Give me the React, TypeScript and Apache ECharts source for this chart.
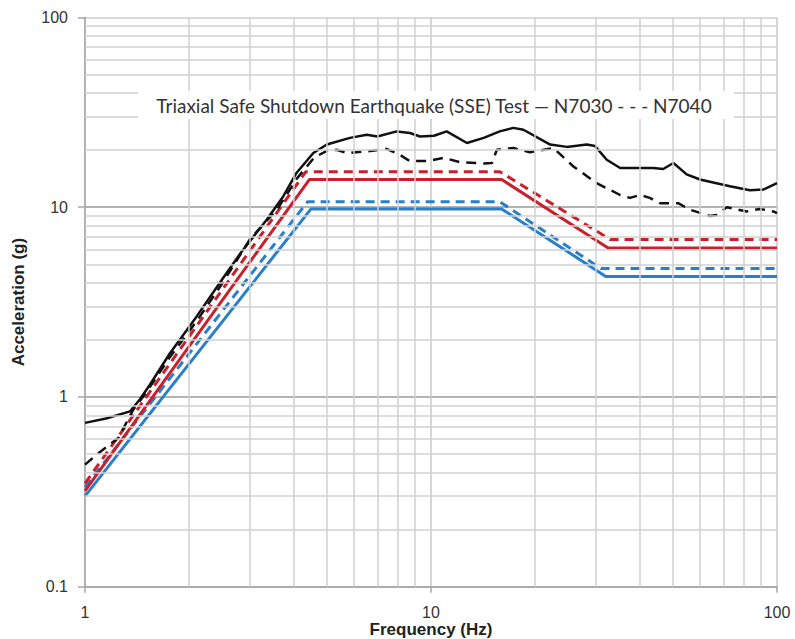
import { useEffect, useRef } from "react";
import * as echarts from "echarts";

// ---- Data ----
const blackSolidFreq = [1, 1.15, 1.35, 1.44, 1.54, 1.76, 2.1, 2.51, 2.81, 3.35, 3.74, 4.09, 4.57, 5.0, 5.83, 6.52, 7.0, 7.96, 8.69, 9.3, 10.2, 11.1, 12.7, 14.2, 15.8, 17.3, 18.5, 22.1, 24.7, 28.2, 29.8, 32.2, 35.2, 40.2, 43.9, 46.9, 50.2, 54.8, 59.9, 65.4, 73.1, 83.5, 91.3, 100];
const blackSolidAcc = [0.73, 0.77, 0.84, 0.97, 1.16, 1.7, 2.65, 4.25, 5.7, 8.6, 11.4, 15.2, 19.3, 21.4, 23.2, 24.1, 23.6, 25.1, 24.6, 23.6, 23.8, 25.1, 21.8, 23.2, 25.1, 26.2, 25.6, 21.4, 20.8, 21.4, 21.0, 17.8, 16.1, 16.1, 16.1, 15.9, 17.1, 14.9, 14.0, 13.5, 12.9, 12.3, 12.4, 13.4];

const blackDashedFreq = [1, 1.1, 1.25, 1.3, 1.38, 1.5, 1.75, 2.1, 2.5, 3.0, 3.6, 4.1, 4.6, 5.0, 5.34, 5.71, 6.52, 7.44, 8.13, 8.69, 9.72, 10.9, 12.1, 14.2, 15.0, 15.5, 17.3, 19.3, 22.6, 25.8, 30.1, 35.2, 37.6, 40.2, 42.9, 45.9, 51.8, 56.1, 64.0, 66.8, 71.6, 81.7, 89.3, 97.6, 100];
const blackDashedAcc = [0.44, 0.51, 0.61, 0.7, 0.86, 1.05, 1.6, 2.5, 4.0, 6.8, 9.8, 14.2, 18.3, 19.8, 20.1, 19.3, 19.7, 20.3, 18.9, 17.5, 17.5, 18.2, 17.3, 17.0, 17.1, 20.1, 20.5, 19.5, 20.5, 16.4, 13.4, 11.6, 11.2, 11.6, 11.2, 10.5, 10.5, 9.7, 9.0, 9.1, 10.0, 9.5, 9.8, 9.5, 9.3];

const redDashedFreq = [1, 4.35, 15.8, 33, 100];
const redDashedAcc = [0.35, 15.4, 15.4, 6.75, 6.75];
const redSolidFreq = [1, 4.45, 16, 32.5, 100];
const redSolidAcc = [0.32, 14.0, 14.0, 6.1, 6.1];
const blueDashedFreq = [1, 4.4, 15.8, 31, 100];
const blueDashedAcc = [0.335, 10.7, 10.7, 4.75, 4.75];
const blueSolidFreq = [1, 4.5, 16, 32, 100];
const blueSolidAcc = [0.3, 9.8, 9.8, 4.32, 4.32];

const minorGridX = [2, 3, 4, 5, 6, 7, 8, 9, 20, 30, 40, 50, 60, 70, 80, 90];
const minorGridY = [0.2, 0.3, 0.4, 0.5, 0.6, 0.7, 0.8, 0.9, 2, 3, 4, 5, 6, 7, 8, 9, 20, 30, 40, 50, 60, 70, 80, 90];

const titleText = "Triaxial Safe Shutdown Earthquake (SSE) Test \u2014 N7030 - - - N7040";
const xAxisName = "Frequency (Hz)";
const yAxisName = "Acceleration (g)";

const RED = "#c8202c";
const BLUE = "#2a7fc9";
const BLACK = "#111111";

const zip = (xs: number[], ys: number[]) => xs.map((x, i) => [x, ys[i]]);
const fmt = (v: number) => String(+Number(v).toPrecision(3));

export default function App() {
  const ref = useRef<HTMLDivElement>(null);

  useEffect(() => {
    if (!ref.current) return;
    const chart = echarts.init(ref.current, null, { renderer: "svg" });
    const lineBase = { type: "line", showSymbol: false, symbol: "none", silent: true, z: 3 };
    chart.setOption({
      animation: false,
      backgroundColor: "#ffffff",
      grid: { left: 85, right: 18, top: 17.5, bottom: 52.3, containLabel: false, outerBoundsMode: "none" },
      xAxis: {
        type: "log",
        logBase: 10,
        min: 1,
        max: 100,
        name: xAxisName,
        nameLocation: "middle",
        nameGap: 34,
        nameMoveOverlap: false,
        nameTextStyle: { fontFamily: "Liberation Sans", fontWeight: "bold", fontSize: 17, color: "#222" },
        axisLine: { show: true, lineStyle: { color: "#a6a6a6", width: 1.5 } },
        axisTick: { show: true, length: 6, lineStyle: { color: "#a6a6a6", width: 1.5 } },
        axisLabel: { color: "#333", fontSize: 16, fontFamily: "Liberation Sans", margin: 18, formatter: fmt },
        splitLine: { show: true, lineStyle: { color: "#c8c8c8", width: 1.5 } },
      },
      yAxis: {
        type: "log",
        logBase: 10,
        min: 0.1,
        max: 100,
        name: yAxisName,
        nameLocation: "middle",
        nameGap: 58,
        nameMoveOverlap: false,
        nameTextStyle: { fontFamily: "Liberation Sans", fontWeight: "bold", fontSize: 17, color: "#222" },
        axisLine: { show: true, lineStyle: { color: "#a6a6a6", width: 1.5 } },
        axisTick: { show: true, length: 7, lineStyle: { color: "#a6a6a6", width: 1.5 } },
        axisLabel: { color: "#333", fontSize: 16, fontFamily: "Liberation Sans", margin: 17, formatter: fmt },
        splitLine: { show: true, lineStyle: { color: ["#a6a6a6", "#9a9a9a", "#9a9a9a", "#cccccc"], width: 1.5 } },
      },
      graphic: [
        {
          type: "rect",
          z: 100,
          shape: { x: 138, y: 91, width: 596, height: 28 },
          style: { fill: "#ffffff" },
          silent: true,
        },
        {
          type: "text",
          z: 101,
          x: 434,
          y: 105,
          silent: true,
          style: {
            text: titleText,
            fill: "#333333",
            fontSize: 19,
            fontFamily: "Lato",
            textAlign: "center",
            textVerticalAlign: "middle",
            align: "center",
            verticalAlign: "middle",
          },
        },
      ],
      series: [
        {
          type: "line",
          data: [],
          silent: true,
          z: 1,
          markLine: {
            silent: true,
            symbol: ["none", "none"],
            label: { show: false },
            lineStyle: { color: "#d0d0d0", width: 1.5, type: "solid" },
            data: [
              ...minorGridX.map((v) => ({ xAxis: v })),
              ...minorGridY.map((v) => ({ yAxis: v })),
            ],
          },
        },
        { ...lineBase, name: "Blue solid", data: zip(blueSolidFreq, blueSolidAcc), lineStyle: { color: BLUE, width: 3 } },
        { ...lineBase, name: "Blue dashed", data: zip(blueDashedFreq, blueDashedAcc), lineStyle: { color: BLUE, width: 3, type: [9, 6] } },
        { ...lineBase, name: "Red solid", data: zip(redSolidFreq, redSolidAcc), lineStyle: { color: RED, width: 3 } },
        { ...lineBase, name: "Red dashed", data: zip(redDashedFreq, redDashedAcc), lineStyle: { color: RED, width: 3, type: [9, 6] } },
        { ...lineBase, name: "N7040", data: zip(blackDashedFreq, blackDashedAcc), lineStyle: { color: BLACK, width: 2.5, type: [10, 7] } },
        { ...lineBase, name: "N7030", data: zip(blackSolidFreq, blackSolidAcc), lineStyle: { color: BLACK, width: 2.5 } },
      ],
    });
    return () => chart.dispose();
  }, []);

  return (
    <div
      ref={ref}
      style={{ position: "absolute", left: 0, top: 0, width: 795, height: 639, background: "#fff" }}
    />
  );
}
